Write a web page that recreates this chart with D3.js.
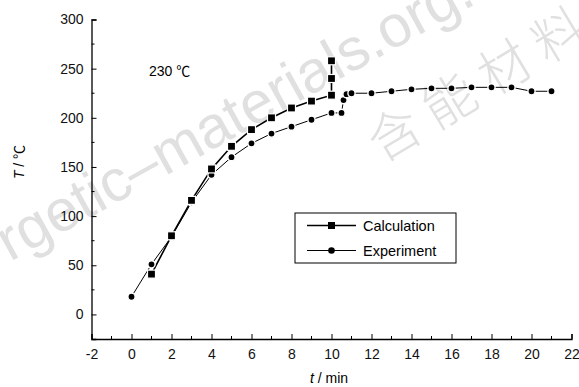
<!DOCTYPE html>
<html>
<head>
<meta charset="utf-8">
<script src="https://cdn.jsdelivr.net/npm/d3@7"></script>
<style>
  body { margin: 0; background: #fff; }
  text { font-family: "Liberation Sans", Arial, sans-serif; }
</style>
</head>
<body>
<script>
'use strict';

// data
const calcT = [1, 2, 3, 4, 5, 6, 7, 8, 9, 10, 10, 10];
const calcY = [41, 80, 116, 148, 171, 188, 200, 210, 217, 223, 240, 258];
const expT = [0, 1, 2, 3, 4, 5, 6, 7, 8, 9, 10, 10.5, 10.6, 10.75, 11, 12, 13, 14, 15, 16, 17, 18, 19, 20, 21];
const expY = [18, 51, 79, 114, 142, 160, 174, 184, 191, 198, 205, 205, 218, 224, 225, 225, 227, 229, 230, 230, 231, 231, 231, 227, 227];
const xTicks = [-2, 0, 2, 4, 6, 8, 10, 12, 14, 16, 18, 20, 22];
const yTicks = [0, 50, 100, 150, 200, 250, 300];
const seriesNames = ["Calculation", "Experiment"];

const width = 579, height = 387;
const cjk = "'Noto Sans CJK SC', sans-serif";
const svg = d3.select("body").append("svg")
  .attr("width", width)
  .attr("height", height);

// watermark (light grey, diagonal)
const wm = svg.append("g").style("fill", "#e0e0e0");
wm.append("text")
  .attr("transform", "translate(10,262) rotate(-29)")
  .style("font-size", "59px")
  .text("rgetic\u2013materials.org.cn");
wm.append("text")
  .attr("transform", "translate(480,78) rotate(-31)")
  .style("font-family", cjk)
  .style("font-weight", 300)
  .style("font-size", "52px")
  .style("letter-spacing", "12px")
  .style("text-anchor", "middle")
  .style("dominant-baseline", "central")
  .text("含能材料");

const x = d3.scaleLinear().domain([-2, 22]).range([91.5, 571.5]);
const y = d3.scaleLinear().domain([-25, 300]).range([339, 19.5]);

// x axis, ticks pointing inward
const xAxis = svg.append("g")
  .attr("transform", "translate(0," + y(-25) + ")")
  .call(d3.axisBottom(x).tickValues(xTicks).tickSize(-5).tickPadding(10).tickFormat((d) => String(d)));
xAxis.append("g").selectAll("line")
  .data(d3.range(-1, 22, 2))
  .enter().append("line")
  .attr("x1", (d) => x(d)).attr("x2", (d) => x(d))
  .attr("y1", 0).attr("y2", -3)
  .attr("stroke", "#000");

// y axis
const yAxis = svg.append("g")
  .attr("transform", "translate(" + x(-2) + ",0)")
  .call(d3.axisLeft(y).tickValues(yTicks).tickSize(-5).tickPadding(8));
yAxis.append("g").selectAll("line")
  .data(d3.range(25, 300, 50))
  .enter().append("line")
  .attr("y1", (d) => y(d)).attr("y2", (d) => y(d))
  .attr("x1", 0).attr("x2", 3)
  .attr("stroke", "#000");

svg.selectAll(".domain").attr("stroke", "#000").attr("stroke-width", 1.3);
svg.selectAll(".tick text").style("font-size", "14px").style("fill", "#111");
svg.selectAll(".tick line").attr("stroke", "#000");

// axis titles
const xt = svg.append("text")
  .attr("x", 329).attr("y", 383)
  .style("text-anchor", "middle")
  .style("font-size", "14px");
xt.append("tspan").style("font-style", "italic").text("t");
xt.append("tspan").text(" /  min");

const yt = svg.append("text")
  .attr("transform", "translate(24,162) rotate(-90)")
  .style("text-anchor", "middle")
  .style("font-size", "14px");
yt.append("tspan").style("font-style", "italic").text("T");
yt.append("tspan").text(" /  ");
yt.append("tspan").style("font-family", cjk).text("℃");

const lbl = svg.append("text")
  .attr("x", 149).attr("y", 76)
  .style("font-size", "14px");
lbl.append("tspan").text("230 ");
lbl.append("tspan").style("font-family", cjk).text("℃");

const line = d3.line().x((d) => x(d[0])).y((d) => y(d[1]));
const calc = calcT.map((t, i) => [t, calcY[i]]);
const exp = expT.map((t, i) => [t, expY[i]]);

svg.append("path").datum(exp)
  .attr("d", line).attr("fill", "none")
  .attr("stroke", "#000").attr("stroke-width", 1);
svg.append("path").datum(calc)
  .attr("d", line).attr("fill", "none")
  .attr("stroke", "#000").attr("stroke-width", 1.6);

svg.selectAll(".expDot").data(exp).enter().append("circle")
  .attr("cx", (d) => x(d[0])).attr("cy", (d) => y(d[1]))
  .attr("r", 3.6).attr("fill", "#000")
  .attr("stroke", "#fff").attr("stroke-width", 1.4);
svg.selectAll(".calcDot").data(calc).enter().append("rect")
  .attr("x", (d) => x(d[0]) - 4).attr("y", (d) => y(d[1]) - 4)
  .attr("width", 8).attr("height", 8).attr("fill", "#000")
  .attr("stroke", "#fff").attr("stroke-width", 1.2);

// legend
const legend = svg.append("g").attr("transform", "translate(295,213)");
legend.append("rect")
  .attr("width", 161).attr("height", 50)
  .attr("fill", "#fff").attr("stroke", "#000").attr("stroke-width", 1);
seriesNames.forEach((name, i) => {
  const ly = 12.5 + i * 25;
  legend.append("line")
    .attr("x1", 12).attr("x2", 61).attr("y1", ly).attr("y2", ly)
    .attr("stroke", "#000").attr("stroke-width", i === 0 ? 1.6 : 1);
  if (i === 0) {
    legend.append("rect").attr("x", 33).attr("y", ly - 3.5)
      .attr("width", 7).attr("height", 7).attr("fill", "#000");
  } else {
    legend.append("circle").attr("cx", 36.5).attr("cy", ly).attr("r", 3.3).attr("fill", "#000");
  }
  legend.append("text")
    .attr("x", 68).attr("y", ly + 5)
    .style("font-size", "14.5px")
    .text(name);
});
</script>
</body>
</html>
